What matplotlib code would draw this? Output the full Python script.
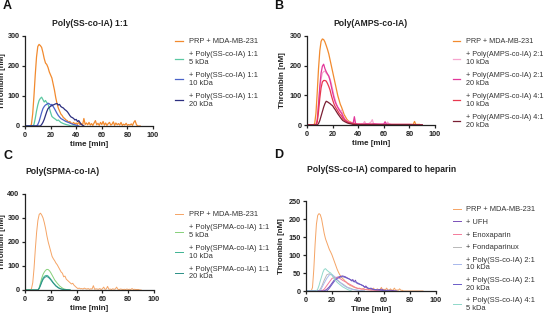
import matplotlib
matplotlib.use("Agg")
import matplotlib.pyplot as plt
import numpy as np

plt.rcParams['font.family'] = ['Liberation Sans', 'DejaVu Sans']

# ---------------- Panel A data ----------------
a_t_orange = list(range(0, 91))
a_orange = [0, 0, 0, 0, 0, 5, 40, 100, 170, 230, 265, 272, 268, 262, 245, 225, 210, 205, 195, 180,
            170, 160, 140, 120, 95, 75, 60, 50, 40, 35, 28, 25, 20, 18, 12, 15, 10, 8, 12, 6,
            10, 5, 14, 4, 8, 3, 25, 5, 10, 4, 12, 3, 8, 2, 10, 18, 4, 9, 2, 12,
            5, 15, 3, 10, 2, 8, 12, 3, 6, 14, 2, 10, 4, 8, 3, 12, 2, 6, 3, 9,
            2, 5, 3, 7, 2, 12, 18, 5, 0, 0, 0]
a_t_teal = [0, 6, 7, 8, 9, 10, 11, 12, 13, 14, 15, 16, 17, 18, 19, 20, 21, 22, 23, 24, 25, 26, 28, 30, 32, 34, 36, 40]
a_teal = [0, 0, 5, 25, 50, 70, 85, 92, 96, 88, 80, 85, 78, 72, 60, 45, 32, 28, 25, 22, 18, 20, 12, 8, 5, 3, 0, 0]
a_t_blue = [0, 9, 10, 11, 12, 13, 14, 15, 16, 17, 18, 19, 20, 21, 22, 23, 24, 25, 26, 27, 28, 30, 32, 34, 36, 38, 40, 42]
a_blue = [0, 0, 5, 15, 30, 45, 58, 65, 70, 72, 76, 74, 70, 72, 65, 58, 50, 42, 35, 30, 25, 20, 15, 12, 8, 5, 3, 0]
a_t_navy = [0, 12, 13, 14, 15, 16, 17, 18, 19, 20, 21, 22, 23, 24, 25, 26, 27, 28, 29, 30, 31, 32, 33, 34, 35, 36, 37, 38, 39, 40, 41, 42, 44, 46]
a_navy = [0, 0, 5, 12, 22, 35, 48, 58, 62, 66, 68, 70, 72, 74, 75, 70, 72, 65, 62, 60, 55, 52, 48, 42, 35, 30, 28, 25, 20, 22, 15, 18, 5, 0]

# ---------------- Panel B data ----------------
b_t_orange = list(range(0, 91))
b_orange = [0, 0, 0, 0, 0, 0, 5, 40, 110, 190, 250, 282, 290, 288, 280, 268, 255, 240, 220, 200,
            180, 160, 140, 120, 100, 85, 70, 60, 48, 35, 28, 20, 15, 12, 10, 8, 6, 5, 4, 3,
            4, 3, 2, 3, 2, 2, 3, 2, 2, 3, 2, 2, 2, 2, 2, 2, 2, 2, 2, 2,
            2, 2, 2, 2, 2, 2, 2, 2, 2, 2, 2, 2, 2, 2, 2, 2, 2, 2, 2, 2,
            2, 2, 2, 2, 12, 2, 2, 2, 2, 0, 0]
b_t_pink = [0, 7, 8, 9, 10, 11, 12, 13, 14, 15, 16, 17, 18, 19, 20, 21, 22, 23, 24, 25, 26, 27, 28, 29, 30, 32, 34, 36, 37, 38, 40, 42, 44, 45, 46, 48, 50, 51, 52, 54, 56, 58, 60, 61, 62, 63, 64, 66, 70, 80, 90]
b_pink = [0, 0, 20, 70, 120, 155, 175, 180, 182, 175, 170, 165, 155, 140, 120, 100, 85, 70, 60, 55, 48, 50, 35, 25, 18, 12, 8, 5, 15, 3, 4, 3, 5, 12, 3, 4, 10, 18, 4, 3, 3, 3, 4, 12, 3, 10, 3, 2, 2, 2, 0]
b_t_magenta = [0, 7, 8, 9, 10, 11, 12, 13, 14, 15, 16, 17, 18, 19, 20, 21, 22, 23, 24, 25, 26, 27, 28, 29, 30, 32, 34, 36, 37, 38, 40, 44, 46, 50, 52, 56, 60, 61, 62, 64, 66, 70, 80, 90]
b_magenta = [0, 0, 15, 70, 130, 175, 198, 205, 190, 180, 172, 165, 150, 130, 110, 92, 78, 68, 60, 52, 45, 40, 30, 22, 16, 10, 8, 5, 28, 4, 3, 3, 4, 3, 4, 3, 3, 10, 3, 3, 2, 2, 2, 0]
b_t_red = [0, 7, 8, 9, 10, 11, 12, 13, 14, 15, 16, 17, 18, 19, 20, 21, 22, 23, 24, 25, 26, 27, 28, 30, 32, 34, 36, 38, 40, 45, 50, 60, 70, 80, 90]
b_red = [0, 0, 10, 45, 90, 125, 145, 150, 150, 148, 140, 130, 118, 100, 85, 72, 62, 55, 48, 40, 35, 30, 22, 14, 9, 6, 4, 3, 2, 2, 2, 1, 1, 1, 0]
b_t_dark = [0, 8, 9, 10, 11, 12, 13, 14, 15, 16, 17, 18, 19, 20, 21, 22, 23, 24, 25, 26, 27, 28, 30, 32, 34, 36, 40, 45, 50, 60, 70, 80, 90]
b_dark = [0, 0, 5, 15, 30, 45, 60, 72, 80, 78, 75, 72, 68, 65, 58, 52, 45, 38, 32, 26, 20, 15, 10, 6, 4, 2, 1, 1, 1, 1, 1, 1, 0]

# ---------------- Panel C data ----------------
c_t_orange = list(range(0, 91))
c_orange = [0, 0, 0, 0, 0, 5, 30, 90, 170, 240, 290, 315, 320, 312, 300, 280, 255, 225, 200, 180,
            160, 140, 130, 122, 112, 105, 95, 85, 75, 70, 55, 58, 45, 40, 35, 30, 25, 28, 20, 15,
            10, 6, 8, 5, 6, 4, 8, 5, 4, 6, 3, 5, 4, 18, 3, 5, 4, 3, 6, 2,
            5, 12, 3, 4, 15, 3, 4, 2, 5, 3, 4, 12, 3, 2, 4, 3, 2, 3, 2, 4,
            2, 3, 2, 6, 2, 3, 2, 2, 2, 0, 0]
c_t_light = [0, 10, 11, 12, 13, 14, 15, 16, 17, 18, 19, 20, 21, 22, 23, 24, 25, 26, 27, 28, 29, 30, 32, 35]
c_light = [0, 0, 10, 30, 50, 65, 75, 82, 86, 85, 80, 72, 62, 52, 42, 35, 28, 22, 16, 12, 8, 5, 2, 0]
c_t_teal = [0, 10, 11, 12, 13, 14, 15, 16, 17, 18, 19, 20, 21, 22, 23, 24, 25, 26, 27, 28, 29, 30, 32, 35]
c_teal = [0, 0, 8, 22, 38, 50, 57, 60, 61, 58, 52, 45, 38, 30, 24, 18, 14, 10, 7, 5, 3, 2, 1, 0]
c_t_dark = [0, 10, 11, 12, 13, 14, 15, 16, 17, 18, 19, 20, 21, 22, 23, 24, 25, 26, 27, 28, 29, 30, 32, 35]
c_dark = [0, 0, 6, 18, 32, 44, 51, 55, 56, 53, 48, 42, 35, 28, 22, 16, 12, 8, 6, 4, 3, 2, 1, 0]

# ---------------- Panel D data ----------------
d_t_orange = list(range(0, 91))
d_orange = [0, 0, 0, 0, 0, 10, 60, 130, 185, 210, 215, 212, 200, 180, 160, 145, 135, 125, 115, 108,
            100, 90, 80, 70, 60, 52, 45, 40, 35, 32, 28, 25, 20, 18, 15, 14, 12, 10, 9, 8,
            7, 8, 6, 5, 7, 5, 4, 6, 4, 5, 3, 4, 8, 3, 4, 6, 3, 4, 10, 3,
            5, 3, 8, 3, 2, 6, 2, 3, 8, 2, 3, 2, 6, 2, 2, 0, 0, 0, 0, 0,
            0, 0, 0, 0, 0, 0, 0, 0, 0, 0, 0]
d_t_ufh = [0, 14, 16, 18, 20, 22, 24, 26, 28, 30, 32, 34, 35, 36, 37, 38, 39, 40, 42, 44, 45, 46, 48, 50, 52, 55, 58, 60, 65, 70]
d_ufh = [0, 0, 5, 12, 22, 32, 38, 40, 42, 40, 36, 32, 28, 32, 25, 30, 22, 20, 18, 15, 10, 14, 6, 8, 4, 3, 5, 2, 2, 0]
d_t_enox = [0, 12, 14, 16, 18, 20, 22, 24, 26, 28, 30, 32, 34, 36, 38, 40, 44, 48, 52, 56, 60]
d_enox = [0, 0, 5, 15, 25, 35, 38, 38, 35, 30, 26, 22, 18, 14, 10, 7, 5, 3, 2, 1, 0]
d_t_fonda = [0, 10, 12, 14, 16, 18, 20, 22, 24, 26, 28, 30, 32, 34, 36, 40, 45]
d_fonda = [0, 0, 12, 30, 45, 48, 44, 36, 30, 24, 20, 15, 10, 8, 5, 2, 0]
d_t_p10 = [0, 11, 12, 14, 16, 18, 20, 22, 24, 26, 28, 30, 32, 34, 36, 40, 45]
d_p10 = [0, 0, 8, 22, 35, 45, 46, 40, 32, 25, 18, 13, 9, 6, 4, 2, 0]
d_t_p20 = [0, 16, 18, 20, 22, 24, 26, 28, 30, 32, 34, 36, 38, 40, 42, 44, 46, 48, 50, 52, 55, 60, 65]
d_p20 = [0, 0, 8, 18, 28, 35, 38, 40, 38, 35, 32, 28, 25, 22, 18, 14, 10, 8, 6, 4, 3, 1, 0]
d_t_p41 = [0, 8, 9, 10, 11, 12, 13, 14, 15, 16, 17, 18, 19, 20, 21, 22, 23, 24, 26, 28, 30, 32, 35]
d_p41 = [0, 0, 5, 15, 28, 40, 52, 60, 62, 58, 55, 52, 50, 45, 38, 32, 28, 24, 18, 12, 8, 4, 0]

labels_a = ["PRP + MDA-MB-231", "+ Poly(SS-co-IA) 1:1\n5 kDa", "+ Poly(SS-co-IA) 1:1\n10 kDa",
            "+ Poly(SS-co-IA) 1:1\n20 kDa"]
labels_b = ["PRP + MDA-MB-231", "+ Poly(AMPS-co-IA) 2:1\n10 kDa", "+ Poly(AMPS-co-IA) 2:1\n20 kDa",
            "+ Poly(AMPS-co-IA) 4:1\n10 kDa", "+ Poly(AMPS-co-IA) 4:1\n20 kDa"]
labels_c = ["PRP + MDA-MB-231", "+ Poly(SPMA-co-IA) 1:1\n5 kDa", "+ Poly(SPMA-co-IA) 1:1\n10 kDa",
            "+ Poly(SPMA-co-IA) 1:1\n20 kDa"]
labels_d = ["PRP + MDA-MB-231", "+ UFH", "+ Enoxaparin", "+ Fondaparinux",
            "+ Poly(SS-co-IA) 2:1\n10 kDa", "+ Poly(SS-co-IA) 2:1\n20 kDa", "+ Poly(SS-co-IA) 4:1\n5 kDa"]

colors_a = ["#F28A2E", "#5CC8A2", "#4A63C8", "#2C2F80"]
colors_b = ["#F28A2E", "#F6A6CF", "#E2379A", "#E8384F", "#7A1F33"]
colors_c = ["#F5A465", "#86D07A", "#3DB392", "#2A8F86"]
colors_d = ["#F5A465", "#7A4FB8", "#F47A9A", "#B8B8B8", "#A8B8EC", "#6A5CC8", "#8FD8CA"]

fig = plt.figure(figsize=(5.46, 3.16), dpi=100)
W, H = 546, 316


def add_ax(x0, x1, ybot, ytop):
    return fig.add_axes([x0 / W, (H - ybot) / H, (x1 - x0) / W, (ybot - ytop) / H])


def style(ax, ymax, ystep, xlabel, ylab_x):
    ax.set_xlim(0, 100)
    ax.set_ylim(0, ymax)
    ax.set_xticks(range(0, 101, 20))
    ax.set_yticks(np.arange(0, ymax + 1, ystep))
    for s in ['top', 'right']:
        ax.spines[s].set_visible(False)
    for s in ['left', 'bottom']:
        ax.spines[s].set_linewidth(0.9)
        ax.spines[s].set_color('#222222')
    ax.tick_params(length=2.5, width=0.9, labelsize=5.2, pad=1.5, colors='#222222')
    for lab in ax.get_xticklabels() + ax.get_yticklabels():
        lab.set_fontweight('bold')
    ax.set_xlabel(xlabel, fontsize=5.8, fontweight='bold', labelpad=1.5, color='#222222')
    ax.set_ylabel("Thrombin [nM]", fontsize=5.8, fontweight='bold', color='#222222')
    ax.yaxis.set_label_coords(ylab_x, 0.5)


def legend(ax, handles, labels, x, y, spacing=0.8, fs=5.4):
    leg = fig.legend(handles, labels, loc='upper left', bbox_to_anchor=(x / W, (H - y) / H),
                     frameon=False, fontsize=fs, handlelength=1.0, handletextpad=0.8,
                     labelspacing=spacing, labelcolor='#333333', borderaxespad=0, borderpad=0)
    for t in leg.get_texts():
        t.set_linespacing(1.15)
    return leg


TITLE_FS = 6.2

# Panel A
axA = add_ax(25, 153, 126, 36)
hA = []
for t, v, c in zip([a_t_orange, a_t_teal, a_t_blue, a_t_navy], [a_orange, a_teal, a_blue, a_navy], colors_a):
    hA.append(axA.plot(t, v, color=c, lw=0.9)[0])
style(axA, 300, 100, "time [min]", -0.145)
fig.text(90 / W, (H - 23) / H, "Poly(SS-co-IA) 1:1", fontsize=TITLE_FS, fontweight='bold',
         ha='center', va='center', color='#222222')
legend(axA, hA, labels_a, 175, 38)

# Panel B
axB = add_ax(307, 435, 125, 36)
hB = []
for t, v, c in zip([b_t_orange, b_t_pink, b_t_magenta, b_t_red, b_t_dark],
                   [b_orange, b_pink, b_magenta, b_red, b_dark], colors_b):
    hB.append(axB.plot(t, v, color=c, lw=0.9)[0])
style(axB, 300, 100, "time [min]", -0.165)
fig.text(370 / W, (H - 23) / H, "Poly(AMPS-co-IA)", fontsize=TITLE_FS, fontweight='bold',
         ha='center', va='center', color='#222222')
legend(axB, hB, labels_b, 453, 38, spacing=0.85, fs=5.2)

# Panel C
axC = add_ax(25, 154, 290, 194)
hC = []
for t, v, c in zip([c_t_orange, c_t_light, c_t_teal, c_t_dark], [c_orange, c_light, c_teal, c_dark], colors_c):
    hC.append(axC.plot(t, v, color=c, lw=0.7)[0])
style(axC, 400, 100, "time [min]", -0.145)
fig.text(25 / W, (H - 172) / H, "Poly(SPMA-co-IA)", fontsize=TITLE_FS, fontweight='bold', va='center',
         color='#222222')
legend(axC, hC, labels_c, 175, 211)

# Panel D
axD = add_ax(306, 436, 291, 201)
hD = []
for t, v, c in zip([d_t_orange, d_t_ufh, d_t_enox, d_t_fonda, d_t_p10, d_t_p20, d_t_p41],
                   [d_orange, d_ufh, d_enox, d_fonda, d_p10, d_p20, d_p41], colors_d):
    hD.append(axD.plot(t, v, color=c, lw=0.7)[0])
style(axD, 250, 50, "Time [min]", -0.16)
fig.text(307 / W, (H - 170) / H, "Poly(SS-co-IA) compared to heparin", fontsize=TITLE_FS, fontweight='bold',
         va='center', color='#222222')
legend(axD, hD, labels_d, 453, 206, spacing=0.72)

# Panel letters
for txt, x, y in [("A", 3, 6), ("B", 274, 6), ("C", 3, 156), ("D", 274, 155)]:
    fig.text(x / W, (H - y) / H, txt, fontsize=9, fontweight='bold', va='center', ha='left',
             color='#111111')

fig.savefig("out.png", dpi=100)
